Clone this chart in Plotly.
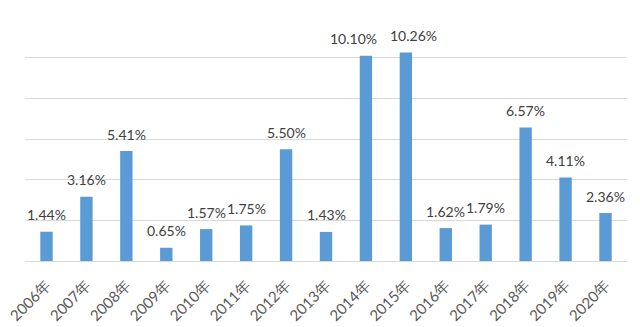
import plotly.graph_objects as go

years = ["2006年", "2007年", "2008年", "2009年", "2010年", "2011年", "2012年", "2013年",
         "2014年", "2015年", "2016年", "2017年", "2018年", "2019年", "2020年"]
rates = [1.44, 3.16, 5.41, 0.65, 1.57, 1.75, 5.50, 1.43,
         10.10, 10.26, 1.62, 1.79, 6.57, 4.11, 2.36]
labels = [f"{v:.2f}%" for v in rates]
# horizontal nudges (px) so adjacent tall-bar labels don't collide
label_dx = [0, 0, 0, 0, 0, 0, 0, 0, -12, 8, 0, 0, 0, 0, 0]

fig = go.Figure()
fig.add_trace(go.Bar(x=years, y=rates, marker=dict(color="#5b9bd5", line=dict(width=0)),
                     width=0.31, hoverinfo="x+y"))

for x, v, t, dx in zip(years, rates, labels, label_dx):
    fig.add_annotation(x=x, y=v, text=t, showarrow=False, yanchor="middle", yshift=17,
                       xshift=dx, font=dict(family="Lato", size=14, color="#404040"))

fig.update_layout(
    width=640, height=327,
    margin=dict(l=25, r=13, t=17, b=66),
    paper_bgcolor="white", plot_bgcolor="white",
    showlegend=False,
    font=dict(family="Lato", size=14, color="#595959"),
)
fig.update_xaxes(tickangle=-45, showgrid=False, showline=False, ticks="",
                 ticklabelstandoff=12, automargin=False,
                 tickfont=dict(family="Lato", size=15, color="#595959"))
fig.update_yaxes(range=[0, 12], dtick=2, showgrid=True, gridcolor="#d9d9d9", gridwidth=1,
                 zeroline=True, zerolinecolor="#d9d9d9", zerolinewidth=1,
                 showticklabels=False, ticks="", automargin=False)

fig.write_html("out.html")
